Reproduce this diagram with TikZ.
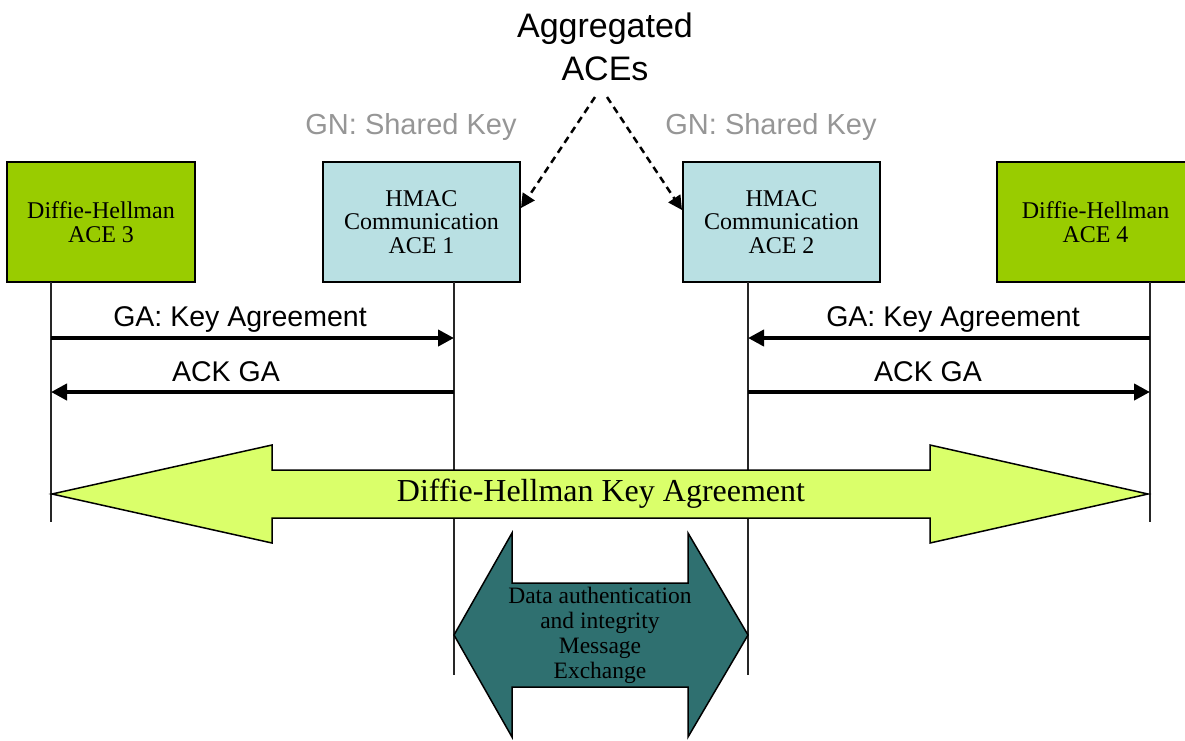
\documentclass[tikz,border=0pt]{standalone}
\usepackage{fontspec}
\setmainfont{Liberation Serif}
\newfontfamily\arialf{Liberation Sans}
\usetikzlibrary{arrows.meta}
\definecolor{dhgreen}{RGB}{153,204,0}
\definecolor{hmacblue}{RGB}{185,224,227}
\definecolor{lightgreen}{RGB}{218,255,106}
\definecolor{tealdark}{RGB}{47,112,112}
\definecolor{gntext}{RGB}{150,150,150}
\begin{document}
\begin{tikzpicture}[x=1pt,y=-1pt,
  acebox/.style={draw=black,line width=2pt,minimum height=120pt,inner sep=0pt,align=center,font=\fontsize{24}{23.5}\selectfont},
  lifeline/.style={line width=1.5pt,black!85},
  msg/.style={line width=4pt,-{Triangle[length=16pt,width=16pt]}},
  msglabel/.style={font=\arialf\fontsize{28.5}{30}\selectfont},
  gnlabel/.style={font=\arialf\fontsize{29}{30}\selectfont,text=gntext},
  aggr/.style={line width=2.5pt,dash pattern=on 7pt off 5pt,-{Triangle[length=14pt,width=14pt]}},
  bigarrow/.style={draw=black,line width=1.5pt,line join=miter}
]
\useasboundingbox (0,0) rectangle (1185,740);

% boxes
\node[acebox,fill=dhgreen,minimum width=188pt] (ace3) at (101,222) {Diffie-Hellman\\ACE 3};
\node[acebox,fill=hmacblue,minimum width=197pt] (ace1) at (421.5,222) {HMAC\\Communication\\ACE 1};
\node[acebox,fill=hmacblue,minimum width=197pt] (ace2) at (781.5,222) {HMAC\\Communication\\ACE 2};
\node[acebox,fill=dhgreen,minimum width=197pt] (ace4) at (1095.5,222) {Diffie-Hellman\\ACE 4};

% labels on top
\node[font=\arialf\fontsize{34}{43}\selectfont,align=center] (agg) at (605,47) {Aggregated\\ACEs};
\node[gnlabel] (gn1) at (411,127) {GN: Shared Key};
\node[gnlabel] (gn2) at (771,127) {GN: Shared Key};

\coordinate (aggL) at (595,97);
\coordinate (aggR) at (607,97);
\draw[aggr] (aggL) -- (ace1.east |- 0,208);
\draw[aggr] (aggR) -- (ace2.west |- 0,210);

% lifelines
\coordinate (l3t) at (51,282);  \coordinate (l3b) at (51,522);
\coordinate (l1t) at (454,282); \coordinate (l1b) at (454,675);
\coordinate (l2t) at (748,282); \coordinate (l2b) at (748,675);
\coordinate (l4t) at (1150,282);\coordinate (l4b) at (1150,522);
\draw[lifeline] (l3t) -- (l3b);
\draw[lifeline] (l1t) -- (l1b);
\draw[lifeline] (l2t) -- (l2b);
\draw[lifeline] (l4t) -- (l4b);

% messages
\coordinate (m3a) at (51,338);  \coordinate (m1a) at (454,338);
\coordinate (m3b) at (51,392);  \coordinate (m1b) at (454,392);
\coordinate (m2a) at (748,338); \coordinate (m4a) at (1150,338);
\coordinate (m2b) at (748,392); \coordinate (m4b) at (1150,392);
\draw[msg] (m3a) -- (m1a);
\draw[msg] (m1b) -- (m3b);
\draw[msg] (m4a) -- (m2a);
\draw[msg] (m2b) -- (m4b);
\node[msglabel] (t1) at (240,319) {GA: Key Agreement};
\node[msglabel] (t2) at (226,372) {ACK GA};
\node[msglabel] (t3) at (953,319) {GA: Key Agreement};
\node[msglabel] (t4) at (928,372) {ACK GA};

% big double arrow
\draw[bigarrow,fill=lightgreen] (52,494) -- (272,445) -- (272,470) -- (930,470) -- (930,445)
  -- (1148,494) -- (930,543) -- (930,518) -- (272,518) -- (272,543) -- cycle;
\node[font=\fontsize{32}{34}\selectfont] (dhka) at (601,494) {Diffie-Hellman Key Agreement};

% teal double arrow
\draw[bigarrow,fill=tealdark] (454,635) -- (512,533) -- (512,583) -- (688,583) -- (688,533)
  -- (748,635) -- (688,737) -- (688,687) -- (512,687) -- (512,737) -- cycle;
\node[font=\fontsize{23.5}{25}\selectfont,align=center] (dae) at (600,635) {Data authentication\\and integrity\\Message\\Exchange};
\end{tikzpicture}
\end{document}
